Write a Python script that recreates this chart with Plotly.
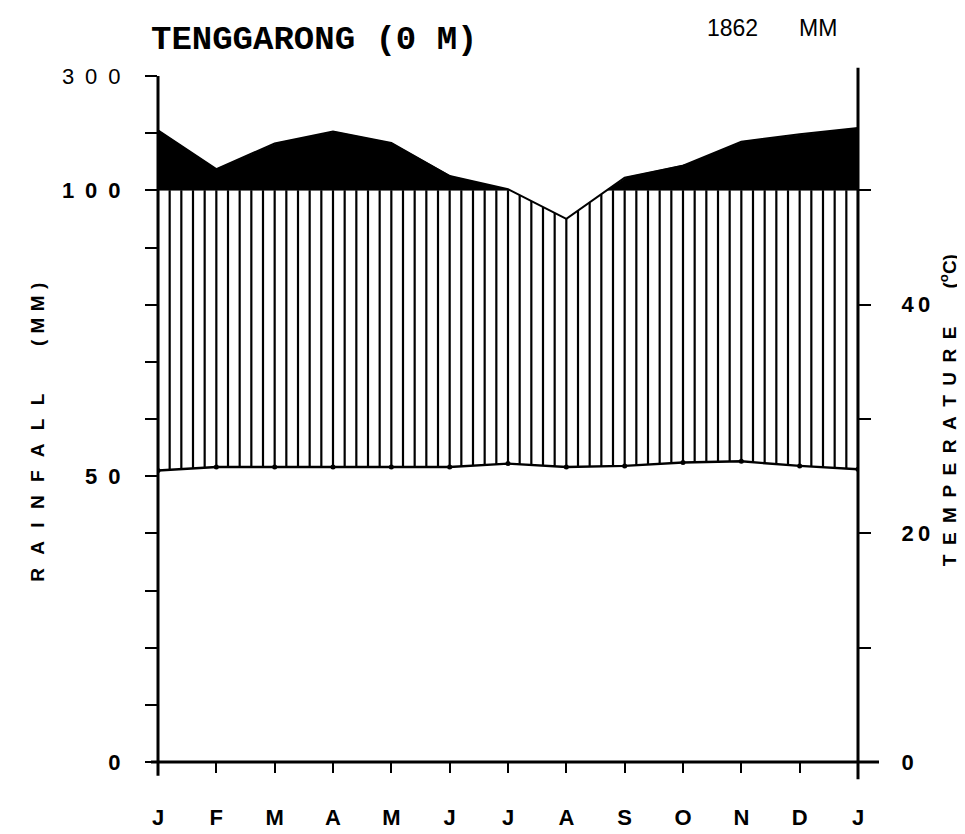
import numpy as np
import plotly.graph_objects as go

# ---- data ----
months = ["J", "F", "M", "A", "M", "J", "J", "A", "S", "O", "N", "D", "J"]
precip_mm = [205, 137, 182, 203, 183, 125, 102, 95, 122, 143, 185, 198, 209]
temp_c = [25.5, 25.8, 25.8, 25.8, 25.8, 25.8, 26.1, 25.8, 25.9, 26.2, 26.3, 25.9, 25.6]
annual_total_mm = 1862
station = "TENGGARONG (0 M)"
rain_tick_mm = [0, 10, 20, 30, 40, 50, 60, 70, 80, 90, 100, 200, 300]
rain_tick_text = ["<b>0</b>", "", "", "", "", "<b>5\u20020</b>", "", "", "", "",
                  "<b>1\u20020\u20020</b>", "", "3\u20020\u20020"]
temp_tick_c = [0, 10, 20, 30, 40, 50]
temp_tick_text = ["<b>0</b>", "", "<b>2\u20090</b>", "", "<b>4\u20090</b>", ""]


def rain_to_disp(mm):
    mm = np.asarray(mm, dtype=float)
    return np.where(mm <= 100, mm, 100 + (mm - 100) / 10.0)


pos = np.arange(len(months), dtype=float)
p_disp = rain_to_disp(precip_mm)
t_disp = 2 * np.asarray(temp_c)          # Walter-Lieth: 10 degC = 20 mm

fig = go.Figure()

# black area (precipitation above 100 mm), split into separate polygons
xf = np.linspace(pos[0], pos[-1], 1201)
pf = np.interp(xf, pos, p_disp)
mask = pf > 100
bx, by = [], []
i = 0
n = len(xf)
while i < n:
    if mask[i]:
        j = i
        while j + 1 < n and mask[j + 1]:
            j += 1
        seg_x = list(xf[i:j + 1])
        seg_y = list(pf[i:j + 1])
        bx += seg_x + seg_x[::-1] + [seg_x[0], None]
        by += seg_y + [100] * len(seg_x) + [seg_y[0], None]
        i = j + 1
    else:
        i += 1
fig.add_trace(go.Scatter(
    x=bx, y=by, fill="toself", fillcolor="black",
    line=dict(width=0.5, color="black"),
    mode="lines", hoverinfo="skip", showlegend=False))

# vertical hatching (humid period)
hx = np.linspace(pos[0], pos[-1], 61)
lo = np.interp(hx, pos, t_disp)
hi = np.minimum(np.interp(hx, pos, p_disp), 100)
xs, ys = [], []
for a, b, c in zip(hx, lo, hi):
    xs += [a, a, None]
    ys += [b, c, None]
fig.add_trace(go.Scatter(x=xs, y=ys, mode="lines",
                         line=dict(color="black", width=2.2),
                         hoverinfo="skip", showlegend=False))

# precipitation curve
fig.add_trace(go.Scatter(x=pos, y=p_disp, mode="lines",
                         line=dict(color="black", width=2),
                         showlegend=False))

# temperature curve (right axis)
fig.add_trace(go.Scatter(x=pos, y=temp_c, yaxis="y2", mode="lines+markers",
                         line=dict(color="black", width=2.4),
                         marker=dict(color="black", size=5),
                         showlegend=False))

lbl_font = dict(family="Liberation Sans, Arial, sans-serif", color="black")
ytop = float(rain_to_disp(max(rain_tick_mm)))

ML, MR, MT, MB = 150, 115, 68, 66

fig.update_layout(
    width=965, height=834,
    margin=dict(l=ML, r=MR, t=MT, b=MB),
    paper_bgcolor="white", plot_bgcolor="white",
    showlegend=False,
    xaxis=dict(range=[pos[0], pos[-1]], tickvals=pos,
               ticktext=["<b>%s</b>" % m for m in months],
               ticks="outside", ticklen=10, tickwidth=2, tickcolor="black",
               ticklabelstandoff=26,
               tickfont=dict(size=22, **lbl_font),
               showgrid=False, zeroline=False, showline=False),
    yaxis=dict(range=[0, ytop],
               tickvals=rain_to_disp(rain_tick_mm), ticktext=rain_tick_text,
               ticks="outside", ticklen=12, tickwidth=2, tickcolor="black",
               ticklabelstandoff=20,
               tickfont=dict(size=22, **lbl_font),
               showgrid=False, zeroline=False, showline=False),
    yaxis2=dict(overlaying="y", side="right",
                range=[0, ytop / 2],
                tickvals=temp_tick_c, ticktext=temp_tick_text,
                ticks="outside", ticklen=12, tickwidth=2, tickcolor="black",
                ticklabelstandoff=26,
                tickfont=dict(size=22, **lbl_font),
                showgrid=False, zeroline=False, showline=False),
)

# frame lines
frame = dict(color="black", width=3)
fig.add_shape(type="line", xref="x domain", yref="y domain",
              x0=0, x1=0, y0=-0.02, y1=1.0, line=frame)
fig.add_shape(type="line", xref="x domain", yref="y domain",
              x0=-0.01, x1=1.03, y0=0, y1=0, line=frame)
fig.add_shape(type="line", xref="x domain", yref="y domain",
              x0=1, x1=1, y0=-0.025, y1=1.012, line=frame)

# pixel positions -> paper coordinates
W, H = 965 - ML - MR, 834 - MT - MB


def px_to_paper(px, py):
    return (px - ML) / W, (834 - MB - py) / H


sp = "\u2002\u2009"
rain_lbl = sp.join("RAINFALL") + "\u2003\u2003\u2002" + "\u2004".join("(MM)")
temp_lbl = "\u2002".join("TEMPERATURE") + "\u2003\u2003" + "(<sup>o</sup>C)"

ann = [
    (306, 31, "<b>%s</b>" % station,
     dict(family="Liberation Mono, Courier New, monospace", size=34, color="black"), 0),
    (724, 19, "%d" % annual_total_mm, dict(size=23, **lbl_font), 0),
    (810, 19, "MM", dict(size=23, **lbl_font), 0),
    (30, 432, "<b>%s</b>" % rain_lbl, dict(size=19, **lbl_font), -90),
    (940, 409, "<b>%s</b>" % temp_lbl, dict(size=19, **lbl_font), -90),
]
for px, py, txt, fnt, ang in ann:
    xp, yp = px_to_paper(px, py)
    fig.add_annotation(xref="paper", yref="paper", x=xp, y=yp,
                       xanchor="center", yanchor="middle", showarrow=False,
                       text=txt, font=fnt, textangle=ang)

fig.write_html("out.html")
